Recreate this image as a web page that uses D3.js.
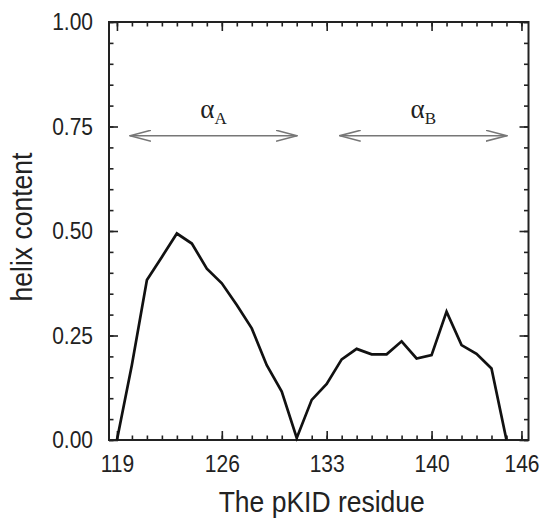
<!DOCTYPE html>
<html>
<head>
<meta charset="utf-8">
<script src="https://cdn.jsdelivr.net/npm/d3@7"></script>
<style>
  body { margin: 0; background: #fff; }
  text { font-family: "Liberation Sans", Arial, sans-serif; fill: #222; }
</style>
</head>
<body>
<div id="helix_chart"></div>
<script>
// residues and helix fraction
var residues = [119, 120, 121, 122, 123, 124, 125, 126, 127, 128, 129, 130, 131, 132,
                133, 134, 135, 136, 137, 138, 139, 140, 141, 142, 143, 144, 145];
var helix = [0.00, 0.18, 0.383, 0.438, 0.494, 0.47, 0.41, 0.375, 0.323, 0.267, 0.179, 0.116, 0.005, 0.096,
             0.134, 0.193, 0.218, 0.205, 0.205, 0.236, 0.195, 0.203, 0.307, 0.227, 0.206, 0.171, 0.00];

var xTicks = [119, 126, 133, 140, 146];
var yTicks = [0, 0.25, 0.5, 0.75, 1];

// helical segments marked with double arrows
var segNames = ["A", "B"];
var segStart = [119.87, 133.87];
var segEnd = [131.02, 145.02];
var segLevel = 0.728;

document.addEventListener('DOMContentLoaded', function () {
    drawHelixChart();
});

function drawHelixChart() {
    var width = 550;
    var height = 526;
    var margin = {top: 22, right: 21.5, bottom: 86, left: 109};
    var w = width - margin.left - margin.right;
    var h = height - margin.top - margin.bottom;
    var stretch = 1.13; // the original lettering is a bit taller than wide

    var svg = d3.select("#helix_chart").append("svg").attr("width", width).attr("height", height);
    var g = svg.append("g").attr("transform", "translate(" + margin.left + "," + margin.top + ")");

    var x = d3.scaleLinear().domain([118.47, 146.47]).range([0, w]);
    var y = d3.scaleLinear().domain([0, 1]).range([h, 0]);

    var xMinor = d3.range(119, 147);
    var yMinor = d3.range(0, 21).map(function (i) { return i * 0.05; });

    // minor ticks, all four sides, pointing inward
    g.append("g").attr("class", "minor").attr("transform", "translate(0," + h + ")").call(d3.axisBottom(x).tickValues(xMinor).tickSize(-4.5).tickFormat(""));
    g.append("g").attr("class", "minor").call(d3.axisTop(x).tickValues(xMinor).tickSize(-4.5).tickFormat(""));
    g.append("g").attr("class", "minor").call(d3.axisLeft(y).tickValues(yMinor).tickSize(-4.5).tickFormat(""));
    g.append("g").attr("class", "minor").attr("transform", "translate(" + w + ",0)").call(d3.axisRight(y).tickValues(yMinor).tickSize(-4.5).tickFormat(""));

    // major ticks with labels on bottom and left
    g.append("g").attr("class", "major xlab").attr("transform", "translate(0," + h + ")").call(d3.axisBottom(x).tickValues(xTicks).tickSize(-9).tickPadding(17).tickFormat(d3.format("d")));
    g.append("g").attr("class", "major").call(d3.axisTop(x).tickValues(xTicks).tickSize(-9).tickFormat(""));
    g.append("g").attr("class", "major ylab").call(d3.axisLeft(y).tickValues(yTicks).tickSize(-9).tickPadding(16).tickFormat(d3.format(".2f")));
    g.append("g").attr("class", "major").attr("transform", "translate(" + w + ",0)").call(d3.axisRight(y).tickValues(yTicks).tickSize(-9).tickFormat(""));

    g.selectAll(".domain").remove();
    g.selectAll(".tick line").attr("stroke", "#222").attr("stroke-width", 1.6);
    g.selectAll(".xlab text, .ylab text").style("font-size", "21px").attr("fill", "#222").attr("transform", "scale(1," + stretch + ")");
    // keep the x labels where they were after the stretch
    g.selectAll(".xlab text").attr("y", 15.5 / stretch);

    // frame
    g.append("rect").attr("x", 0).attr("y", 0).attr("width", w).attr("height", h).attr("fill", "none").attr("stroke", "#222").attr("stroke-width", 2);

    // helix content line
    var line = d3.line().x(function (d, i) { return x(residues[i]); }).y(function (d) { return y(d); });
    g.append("path").datum(helix).attr("d", line).attr("fill", "none").attr("stroke", "#111").attr("stroke-width", 2.7).attr("stroke-linejoin", "miter");

    // open arrow heads
    svg.append("defs").append("marker").attr("id", "chev").attr("viewBox", "0 -6 22 12").attr("refX", 21).attr("refY", 0)
        .attr("markerUnits", "userSpaceOnUse").attr("markerWidth", 22).attr("markerHeight", 12).attr("orient", "auto-start-reverse")
        .append("path").attr("d", "M0,-5.5L21,0L0,5.5").attr("fill", "none").attr("stroke", "#777").attr("stroke-width", 1.5);

    segNames.forEach(function (name, i) {
        g.append("line").attr("x1", x(segStart[i])).attr("x2", x(segEnd[i])).attr("y1", y(segLevel)).attr("y2", y(segLevel))
            .attr("stroke", "#777").attr("stroke-width", 1.6).attr("marker-start", "url(#chev)").attr("marker-end", "url(#chev)");
        var lab = g.append("text").attr("x", x((segStart[i] + segEnd[i]) / 2)).attr("y", y(segLevel) - 18).attr("text-anchor", "middle")
            .style("font-family", "'Liberation Serif', 'Times New Roman', serif").attr("fill", "#333");
        lab.append("tspan").text("α").style("font-size", "27px");
        lab.append("tspan").text(name).attr("dy", 6).style("font-size", "17px");
    });

    // axis titles
    svg.append("text").text("The pKID residue").attr("transform", "translate(" + (margin.left + w / 2 + 3) + ",512) scale(1," + stretch + ")")
        .style("text-anchor", "middle").style("font-size", "26.5px").attr("fill", "#111");
    svg.append("text").text("helix content").attr("transform", "translate(32,227) rotate(-90) scale(1," + stretch + ")")
        .style("text-anchor", "middle").style("font-size", "26.5px").attr("fill", "#111");
}
</script>
</body>
</html>
